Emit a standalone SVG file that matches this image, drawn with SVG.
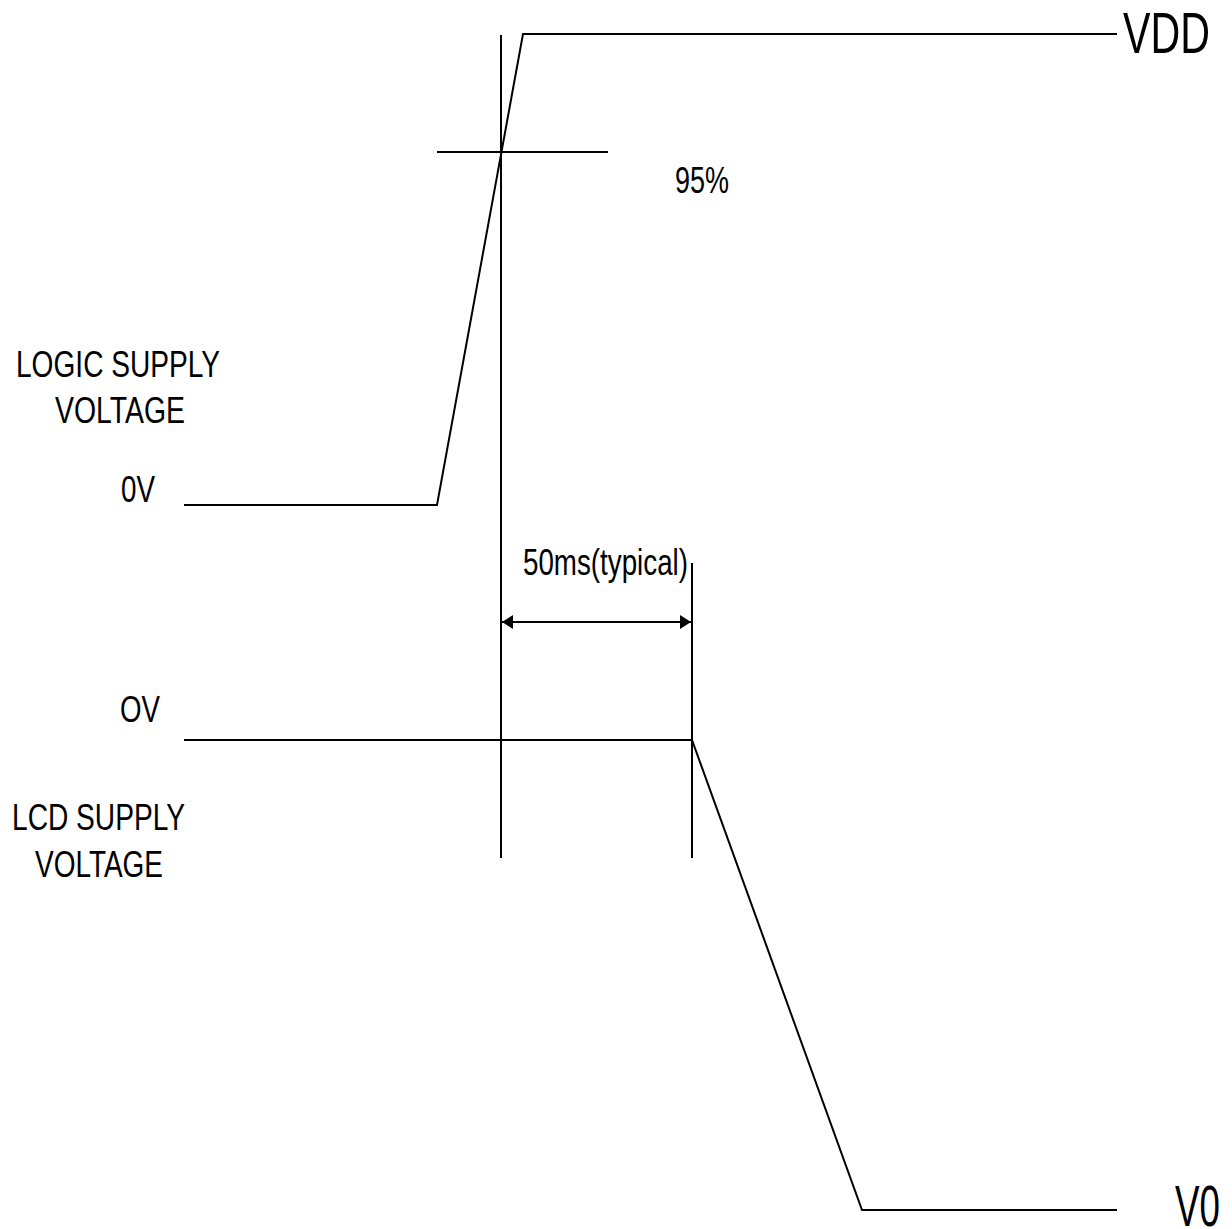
<svg xmlns="http://www.w3.org/2000/svg" width="1232" height="1229" viewBox="0 0 1232 1229">
<style>
.ln{stroke:#000;stroke-width:2;fill:none}
.t{font-family:"Liberation Sans",Arial,sans-serif;font-size:36px;fill:#000}
.big{font-size:58px}
</style>
<defs>
<marker id="ah" viewBox="0 0 11 14" refX="11" refY="7" markerWidth="11" markerHeight="14" markerUnits="userSpaceOnUse" orient="auto-start-reverse">
<path d="M0,0 L11,7 L0,14 z" fill="#000"/>
</marker>
</defs>
<rect width="1232" height="1229" fill="#fff"/>
<g id="connectors">
<polyline class="ln" points="184,505 437,505 523,34 1117,34"/>
<line class="ln" x1="437" y1="152" x2="608" y2="152"/>
<line class="ln" x1="501" y1="35" x2="501" y2="858"/>
<line class="ln" x1="692" y1="563" x2="692" y2="858"/>
<polyline class="ln" points="184,740 692,740 862,1210 1117,1210"/>
<line class="ln" x1="502" y1="622" x2="691" y2="622" marker-start="url(#ah)" marker-end="url(#ah)"/>
</g>
<g id="labels">
<text class="t big" x="1123" y="53" textLength="87" lengthAdjust="spacingAndGlyphs">VDD</text>
<text class="t big" x="1175" y="1226" textLength="45" lengthAdjust="spacingAndGlyphs">V0</text>
<text class="t" x="675" y="193" textLength="54" lengthAdjust="spacingAndGlyphs">95%</text>
<text class="t" x="16" y="377" textLength="204" lengthAdjust="spacingAndGlyphs">LOGIC SUPPLY</text>
<text class="t" x="55" y="423" textLength="130" lengthAdjust="spacingAndGlyphs">VOLTAGE</text>
<text class="t" x="121" y="502" textLength="34" lengthAdjust="spacingAndGlyphs">0V</text>
<text class="t" x="523" y="575" textLength="165" lengthAdjust="spacingAndGlyphs">50ms(typical)</text>
<text class="t" x="120" y="722" textLength="40" lengthAdjust="spacingAndGlyphs">OV</text>
<text class="t" x="12" y="830" textLength="173" lengthAdjust="spacingAndGlyphs">LCD SUPPLY</text>
<text class="t" x="35" y="877" textLength="128" lengthAdjust="spacingAndGlyphs">VOLTAGE</text>
</g>
</svg>
